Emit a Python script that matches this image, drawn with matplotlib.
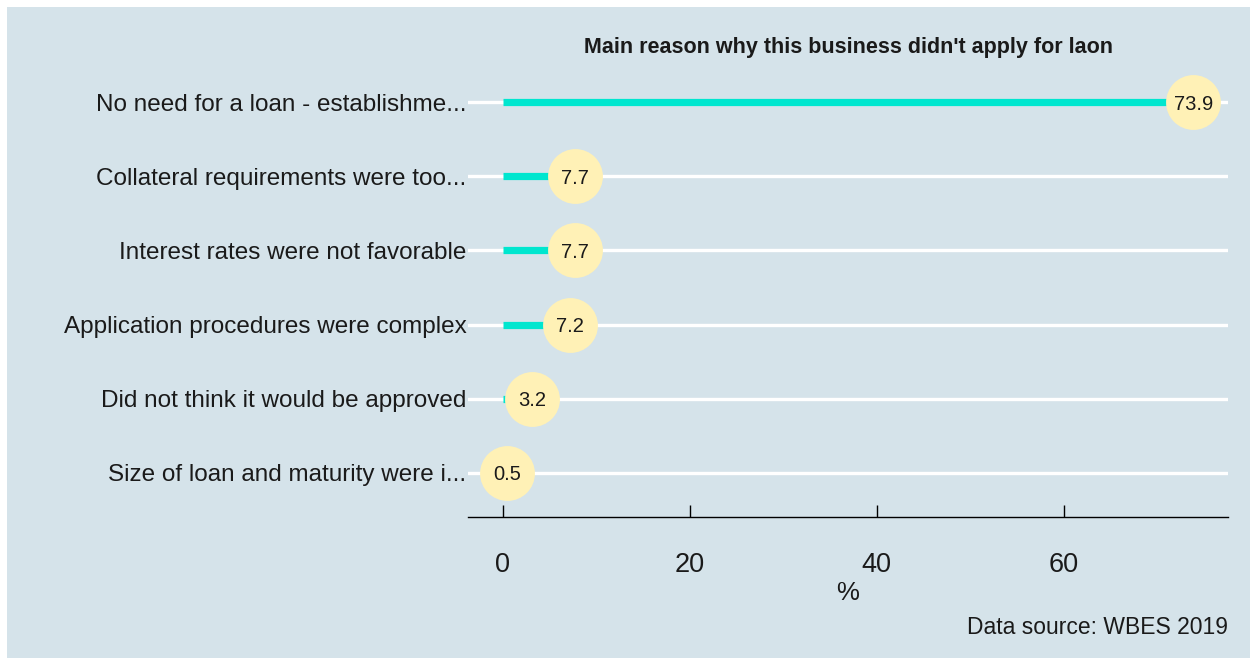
import matplotlib
matplotlib.use("Agg")
import matplotlib.pyplot as plt
from matplotlib.patches import Rectangle

plt.rcParams['font.family'] = ['Liberation Sans', 'DejaVu Sans']

reasons = [
    "No need for a loan - establishme...",
    "Collateral requirements were too...",
    "Interest rates were not favorable",
    "Application procedures were complex",
    "Did not think it would be approved",
    "Size of loan and maturity were i...",
]
shares = [73.9, 7.7, 7.7, 7.2, 3.2, 0.5]
x_ticks = [0, 20, 40, 60]

panel_bg = "#d5e3ea"
stem_color = "#00e6cf"
dot_color = "#fff1b6"
text_color = "#1a1a1a"

fig = plt.figure(figsize=(12.5, 6.58), dpi=100, facecolor="white")
fig.patches.append(Rectangle((7 / 1250, 0), 1, 1 - 7 / 658, transform=fig.transFigure,
                             facecolor=panel_bg, edgecolor="none", zorder=-10))

ax = fig.add_axes([468 / 1250, 141 / 658, 760 / 1250, 459 / 658])
ax.set_facecolor("none")

n = len(reasons)
ypos = list(range(n, 0, -1))

for y in ypos:
    ax.axhline(y, color="white", lw=2.4, zorder=1)

for y, v in zip(ypos, shares):
    ax.plot([0, v], [y, y], color=stem_color, lw=5.2, solid_capstyle="butt", zorder=2)
    ax.plot(v, y, "o", ms=39.5, color=dot_color, mec="none", zorder=3)
    ax.text(v, y, f"{v:.1f}", ha="center", va="center_baseline", fontsize=14.5,
            color=text_color, zorder=4)

vmax = max(shares)
ax.set_xlim(-0.05 * vmax, vmax * 1.05)
ax.set_ylim(0.4, n + 0.6)

ax.set_yticks(ypos)
ax.set_yticklabels(reasons, fontsize=17.5, color=text_color)
ax.set_xticks(x_ticks)
ax.set_xticklabels([str(t) for t in x_ticks], fontsize=19.5, color=text_color)

ax.tick_params(axis="y", length=0, pad=1)
ax.tick_params(axis="x", direction="in", length=9, width=1, color="black", pad=25)

for side in ["left", "right", "top"]:
    ax.spines[side].set_visible(False)
ax.spines["bottom"].set_color("black")
ax.spines["bottom"].set_linewidth(1)

ax.set_xlabel("%", fontsize=18.5, color=text_color, labelpad=2)
ax.set_title("Main reason why this business didn't apply for laon", fontsize=15.5,
             fontweight="bold", color=text_color, pad=1)

fig.text(1228 / 1250, 1 - 627 / 658, "Data source: WBES 2019", ha="right", va="center",
         fontsize=16.5, color=text_color)

fig.savefig("out.png", dpi=100, facecolor=fig.get_facecolor())
